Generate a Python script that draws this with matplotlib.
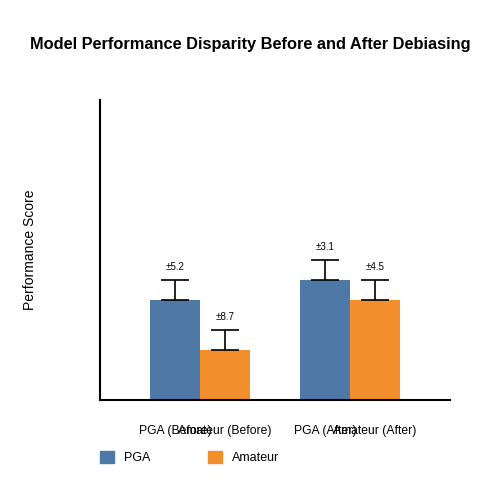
import matplotlib
matplotlib.use("Agg")
import matplotlib.pyplot as plt
from matplotlib.patches import Patch

plt.rcParams['font.family'] = ['Liberation Sans', 'DejaVu Sans']

labels = ["PGA (Before)", "Amateur (Before)", "PGA (After)", "Amateur (After)"]
groups = ["PGA", "Amateur", "PGA", "Amateur"]
values = [50, 25, 60, 50]
errs = [10, 10, 10, 10]
err_text = ["±5.2", "±8.7", "±3.1", "±4.5"]
xpos = [1.5, 2.5, 4.5, 5.5]
colors = {"PGA": "#4e79a7", "Amateur": "#f28e2b"}

fig = plt.figure(figsize=(5, 5), dpi=100)
ax = fig.add_axes([0.2, 0.2, 0.7, 0.6])
ax.bar(xpos, values, width=1.0, color=[colors[g] for g in groups])
ax.errorbar(xpos, values, yerr=[[0]*4, errs], fmt='none', ecolor='black', capsize=10, elinewidth=1.2, capthick=1.2)
for x, v, e, t in zip(xpos, values, errs, err_text):
    ax.text(x, v + e + 4, t, ha='center', va='bottom', fontsize=7)
ax.set_xlim(0, 7)
ax.set_ylim(0, 150)
ax.set_xticks(xpos)
ax.set_xticklabels(labels, fontsize=8.7)
ax.tick_params(axis='x', length=0, pad=18)
ax.set_yticks([])
ax.set_ylabel("Performance Score", fontsize=10, labelpad=45)
for s in ["top", "right"]:
    ax.spines[s].set_visible(False)
for s in ["left", "bottom"]:
    ax.spines[s].set_linewidth(1.5)
fig.suptitle("Model Performance Disparity Before and After Debiasing", y=0.925, fontsize=11.8, fontweight='bold')
handles = [Patch(color=colors["PGA"], label="PGA"), Patch(color=colors["Amateur"], label="Amateur")]
fig.legend(handles=handles, loc='center left', bbox_to_anchor=(0.178, 0.085), ncol=2, frameon=False,
           fontsize=9, columnspacing=4.6, handlelength=1.1, handleheight=1.1)
fig.savefig("out.png", dpi=100)
